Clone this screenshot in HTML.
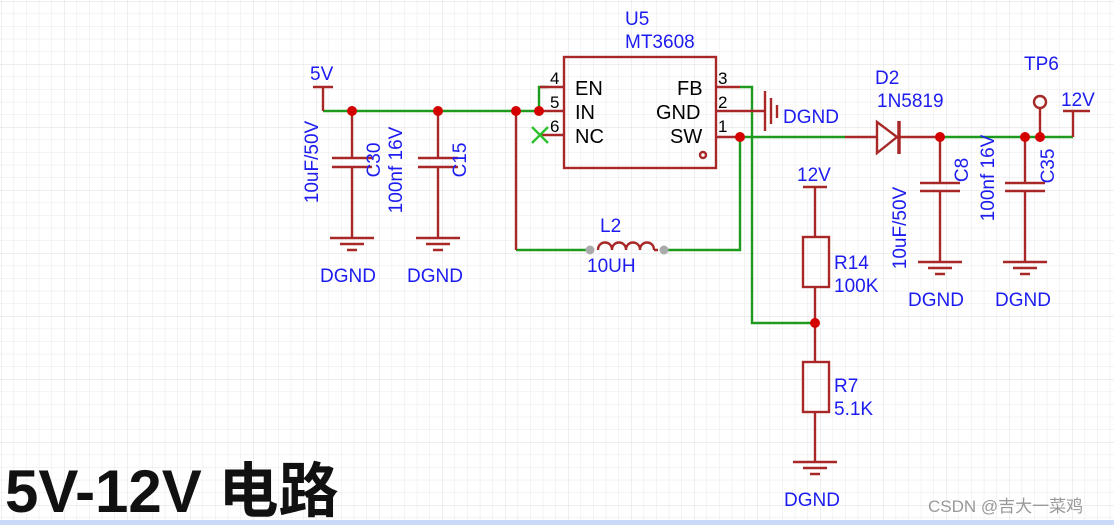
<!DOCTYPE html>
<html><head><meta charset="utf-8"><style>
html,body{margin:0;padding:0;background:#fff;}
svg{display:block}
text{font-family:"Liberation Sans","Noto Sans CJK SC",sans-serif;}
</style></head><body>
<svg width="1114" height="525" viewBox="0 0 1114 525" xmlns="http://www.w3.org/2000/svg">
<defs>
<pattern id="g" width="12.6" height="12.6" patternUnits="userSpaceOnUse" x="1" y="1">
<path d="M0 0H12.6M0 0V12.6" stroke="#e8e8e8" stroke-width="1" fill="none"/>
</pattern>
<pattern id="G" width="63" height="63" patternUnits="userSpaceOnUse" x="1" y="1">
<path d="M0 0H63M0 0V63" stroke="#dedede" stroke-width="1" fill="none"/>
</pattern>
</defs>
<rect width="1114" height="525" fill="url(#g)"/>
<rect width="1114" height="525" fill="url(#G)"/>
<rect x="0" y="520" width="1114" height="5" fill="#c9d9f7"/>

<g fill="none" stroke-width="2.4">
<g stroke="#1e9a1e">
<path d="M323 111H540"/>
<path d="M539 111V87H548"/>
<path d="M516 250H590M664 250H740V137"/>
<path d="M740 87H752V323H815"/>
<path d="M740 137H845"/>
<path d="M940 137H1073"/>
</g>
<g stroke="#a82828">
<path d="M313 87H333M323 87V111"/>
<path d="M516 111V250"/>
<path d="M352 111V158M332 158H372M332 167H372M352 167V238"/>
<path d="M438 111V158M418 158H458M418 167H458M438 167V238"/>
<path d="M330 238H374M340 244H364M347 250H357"/>
<path d="M416 238H460M426 244H450M433 250H443"/>
<rect x="564" y="57" width="152" height="111"/>
<path d="M540 87H564M540 111H564M540 135H564"/>
<path d="M716 87H740M716 111H765M716 137H740"/>
<path d="M765 91V131M771 98V124M777 105V118"/>
<path d="M845 137H877M899 137H940"/>
<path d="M877 122L897 137L877 153Z"/>
<path d="M899 121V154" stroke-width="3.5"/>
<path d="M940 137V183M920 183H960M920 191H960M940 191V262M918 262H962M928 268H952M935 274H945"/>
<path d="M1025 137V183M1005 183H1045M1005 191H1045M1025 191V262M1003 262H1047M1013 268H1037M1020 274H1030"/>
<path d="M1040 108V137M1073 111V137M1063 111H1090"/>
<path d="M803 187H827M815 187V237M815 287V362M815 412V462"/>
<rect x="803" y="237" width="26" height="50"/>
<rect x="803" y="362" width="26" height="50"/>
<path d="M793 462H837M803 468H827M810 474H820"/>
<path d="M598 250c0-10 14-10 14 0c0-10 14-10 14 0c0-10 14-10 14 0c0-10 14-10 14 0M654 250H658"/>
</g>
<circle cx="1040" cy="102" r="6" stroke="#a82828"/>
<circle cx="703" cy="155" r="3" stroke="#a82828"/>
<path d="M532 127L548 143M548 127L532 143" stroke="#2ec02e"/>
</g>
<g fill="#d40000">
<circle cx="352" cy="111" r="5"/><circle cx="438" cy="111" r="5"/>
<circle cx="516" cy="111" r="5"/><circle cx="539" cy="111" r="5"/>
<circle cx="740" cy="137" r="5"/><circle cx="940" cy="137" r="5"/>
<circle cx="1025" cy="137" r="5"/><circle cx="1040" cy="137" r="5"/>
<circle cx="815" cy="323" r="5"/>
</g>
<g fill="#aaa"><circle cx="590" cy="250" r="4.5"/><circle cx="664" cy="250" r="4.5"/></g>

<g font-size="20" fill="#000">
<text x="575" y="95">EN</text><text x="575" y="119">IN</text><text x="575" y="143">NC</text>
<text x="677" y="95">FB</text><text x="656" y="119">GND</text><text x="670" y="143">SW</text>
<text x="550" y="84" font-size="17">4</text><text x="550" y="108" font-size="17">5</text><text x="550" y="132" font-size="17">6</text>
<text x="718" y="84" font-size="17">3</text><text x="718" y="108" font-size="17">2</text><text x="718" y="132" font-size="17">1</text>
</g>
<g font-size="19" fill="#1c1cf0">
<text x="310" y="80">5V</text>
<text x="625" y="25">U5</text>
<text x="625" y="48">MT3608</text>
<text x="320" y="282">DGND</text><text x="407" y="282">DGND</text>
<text x="600" y="232">L2</text><text x="587" y="272">10UH</text>
<text x="783" y="123">DGND</text>
<text x="875" y="84">D2</text><text x="877" y="107">1N5819</text>
<text x="1024" y="70">TP6</text><text x="1061" y="106">12V</text>
<text x="797" y="181">12V</text>
<text x="834" y="269">R14</text><text x="834" y="292">100K</text>
<text x="834" y="392">R7</text><text x="834" y="415">5.1K</text>
<text x="908" y="306">DGND</text><text x="995" y="306">DGND</text>
<text x="784" y="506">DGND</text>
<text transform="translate(380,160) rotate(-90)" text-anchor="middle">C30</text>
<text transform="translate(318,162) rotate(-90)" text-anchor="middle">10uF/50V</text>
<text transform="translate(466,160) rotate(-90)" text-anchor="middle">C15</text>
<text transform="translate(402,170) rotate(-90)" text-anchor="middle">100nf 16V</text>
<text transform="translate(968,170) rotate(-90)" text-anchor="middle">C8</text>
<text transform="translate(906,228) rotate(-90)" text-anchor="middle">10uF/50V</text>
<text transform="translate(1054,166) rotate(-90)" text-anchor="middle">C35</text>
<text transform="translate(994,178) rotate(-90)" text-anchor="middle">100nf 16V</text>
</g>
<text x="5" y="512" font-size="60" font-weight="bold" fill="#111">5V-12V 电路</text>
<text x="928" y="512" font-size="17" fill="#999">CSDN @吉大一菜鸡</text>
</svg>
</body></html>
